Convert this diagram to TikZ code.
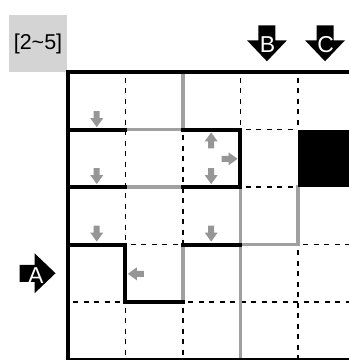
\documentclass[tikz,border=0pt]{standalone}
\usepackage{fontspec}
\setmainfont{Liberation Sans}
\usetikzlibrary{positioning}
\definecolor{wallgray}{RGB}{160,160,160}
\definecolor{hintgray}{RGB}{150,150,150}
\definecolor{boxgray}{RGB}{212,212,212}

\begin{document}
\begin{tikzpicture}[x=57.5pt,y=-57.5pt,
    wall/.style={line width=4pt,black,line cap=rect},
    gwall/.style={line width=3.5pt,wallgray,line cap=rect},
    dashline/.style={line width=1.5pt,dash pattern=on 5pt off 5.5pt,dash phase=5pt},
    hintarrow/.pic={\fill[hintgray] (-8pt,-3pt) -- (-1pt,-3pt) -- (-1pt,-6.5pt) -- (8pt,0pt) -- (-1pt,6.5pt) -- (-1pt,3pt) -- (-8pt,3pt) -- cycle;},
    gatearrow/.pic={\fill[black] (-18pt,-8.5pt) -- (-3pt,-8.5pt) -- (-3pt,-20pt) -- (18pt,0pt) -- (-3pt,20pt) -- (-3pt,8.5pt) -- (-18pt,8.5pt) -- cycle;},
    letter/.style={white,font=\fontsize{23}{26}\selectfont,inner sep=0pt}]
  \clip (-1.1826,-1.2522) rectangle (4.887,5.0087);
  % level tag
  \node[fill=boxgray,minimum width=58pt,minimum height=57pt,inner sep=0pt,
        font=\fontsize{21.5}{25}\selectfont] (level) at (-0.522,-0.496) {[2\textasciitilde5]};
  % thin dashed cell borders
  \draw[dashline] (1,0) -- (1,3) (1,4) -- (1,5);
  \draw[dashline] (2,1) -- (2,3) (2,4) -- (2,5);
  \draw[dashline] (3,0) -- (3,1);
  \draw[dashline] (4,0) -- (4,1) (4,3) -- (4,5);
  \draw[dashline] (3,1) -- (4,1) (3,2) -- (4,2);
  \draw[dashline] (1,3) -- (2,3) (4,3) -- (5,3);
  \draw[dashline] (0,4) -- (1,4) (2,4) -- (5,4);
  % gray walls
  \draw[gwall] (2,0) -- (2,1);
  \draw[gwall] (1,1) -- (2,1);
  \draw[gwall] (1,2) -- (2,2);
  \draw[gwall] (3,2) -- (3,5);
  \draw[gwall] (4,2) -- (4,3) -- (3,3);
  \draw[gwall] (2,4) -- (2,3);
  % black walls
  \draw[wall] (0,0) rectangle (5,5);
  \draw[wall] (0,1) -- (1,1);
  \draw[wall] (2,1) -- (3,1) -- (3,2) -- (2,2);
  \draw[wall] (1,2) -- (0,2);
  \draw[wall] (0,3) -- (1,3) -- (1,4) -- (2,4);
  \draw[wall] (2,3) -- (3,3);
  \fill (4,1) rectangle (5,2);
  % small gray hints
  \pic[rotate=-90] at (0.5,0.82) {hintarrow};
  \pic[rotate=-90] at (0.5,1.81) {hintarrow};
  \pic[rotate=-90] at (0.5,2.81) {hintarrow};
  \pic[rotate=90] at (2.49,1.19) {hintarrow};
  \pic at (2.81,1.51) {hintarrow};
  \pic[rotate=-90] at (2.49,1.81) {hintarrow};
  \pic[rotate=-90] at (2.49,2.81) {hintarrow};
  \pic[rotate=180] at (1.18,3.51) {hintarrow};
  % entry arrows
  \pic at (-0.53,3.5) {gatearrow};
  \pic[rotate=-90] at (3.46,-0.50) {gatearrow};
  \pic[rotate=-90] at (4.47,-0.50) {gatearrow};
  \node[letter] (lblA) at (-0.56,3.54) {A};
  \node[letter] (lblB) at (3.47,-0.48) {B};
  \node[letter] (lblC) at (4.48,-0.48) {C};
\end{tikzpicture}
\end{document}
